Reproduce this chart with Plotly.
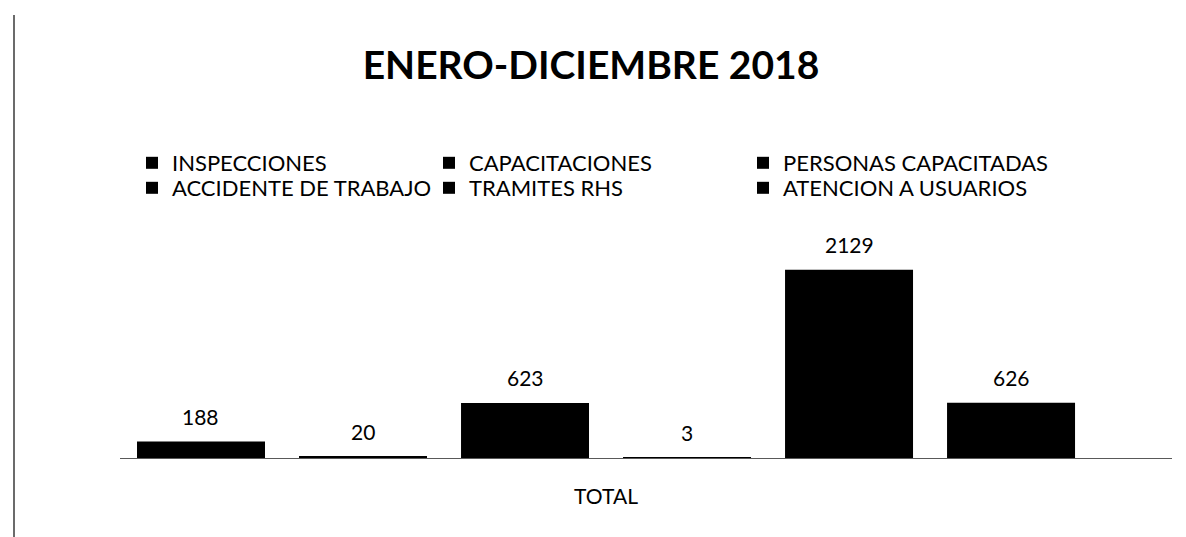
import plotly.graph_objects as go

# Annual totals per activity, January-December 2018
categories = ["TOTAL"]
series_names = [
    "INSPECCIONES",
    "CAPACITACIONES",
    "PERSONAS CAPACITADAS",
    "ACCIDENTE DE TRABAJO",
    "TRAMITES RHS",
    "ATENCION A USUARIOS",
]
series_values = [188, 20, 623, 3, 2129, 626]

W, H = 1186, 537
# plot area in pixels
PL, PR, PT, PB = 120, 1172, 237, 458
PW, PH = PR - PL, PB - PT
BARGAP, BARGROUPGAP = 0.076, 0.21

def px_x(p):
    return (p - PL) / PW

def px_y(p):
    return (PB - p) / PH

FONT = "Lato, Carlito, 'Liberation Sans', sans-serif"

# legend slots (left edge in px, row centre in px)
legend_slots = [
    (132, 163), (429, 163), (743, 163),
    (132, 188), (429, 188), (743, 188),
]

fig = go.Figure()
for i, (name, val) in enumerate(zip(series_names, series_values)):
    lg = "legend" if i == 0 else f"legend{i + 1}"
    fig.add_trace(go.Bar(
        x=categories,
        y=[val],
        name=name,
        marker=dict(color="#000000", line=dict(width=0)),
        cliponaxis=False,
        legend=lg,
    ))

# value labels above each bar of the group
n = len(series_values)
slot_px = PW * (1 - BARGAP) / n
for i, val in enumerate(series_values):
    fig.add_annotation(
        x=categories[0], y=val, xref="x", yref="y",
        text=str(val), showarrow=False,
        xshift=(i - (n - 1) / 2) * slot_px, yshift=25,
        xanchor="center", yanchor="middle",
        font=dict(family=FONT, size=21, color="#000000"),
    )

layout_legends = {}
for i, (lx, ly) in enumerate(legend_slots):
    key = "legend" if i == 0 else f"legend{i + 1}"
    layout_legends[key] = dict(
        x=px_x(lx), y=px_y(ly), xanchor="left", yanchor="middle",
        orientation="h", bgcolor="rgba(0,0,0,0)", borderwidth=0,
        font=dict(family=FONT, size=22, color="#000000"),
        itemwidth=30,
    )

fig.update_layout(
    width=W, height=H,
    margin=dict(l=PL, r=W - PR, t=PT, b=H - PB, pad=0),
    paper_bgcolor="#ffffff", plot_bgcolor="#ffffff",
    barmode="group", bargap=BARGAP, bargroupgap=BARGROUPGAP,
    title=dict(
        text="<b>ENERO-DICIEMBRE 2018</b>",
        x=591 / W, xanchor="center", xref="container",
        y=1 - 65 / H, yanchor="middle", yref="container",
        font=dict(family=FONT, size=39, color="#000000"),
    ),
    xaxis=dict(
        type="category", range=[-0.462, 0.538],
        showline=True, linecolor="#595959", linewidth=1,
        ticks="", showgrid=False, ticklabelstandoff=20,
        tickfont=dict(family=FONT, size=21, color="#000000"),
    ),
    yaxis=dict(
        range=[0, 2500], showgrid=False, zeroline=False,
        showticklabels=False, ticks="", showline=False,
    ),
    showlegend=True,
    **layout_legends,
)

# outer frame edge on the left
fig.add_shape(
    type="line", xref="paper", yref="paper",
    x0=px_x(14), x1=px_x(14), y0=px_y(15), y1=px_y(537),
    line=dict(color="#3a3a3a", width=1.5),
)

fig.write_html("out.html")
